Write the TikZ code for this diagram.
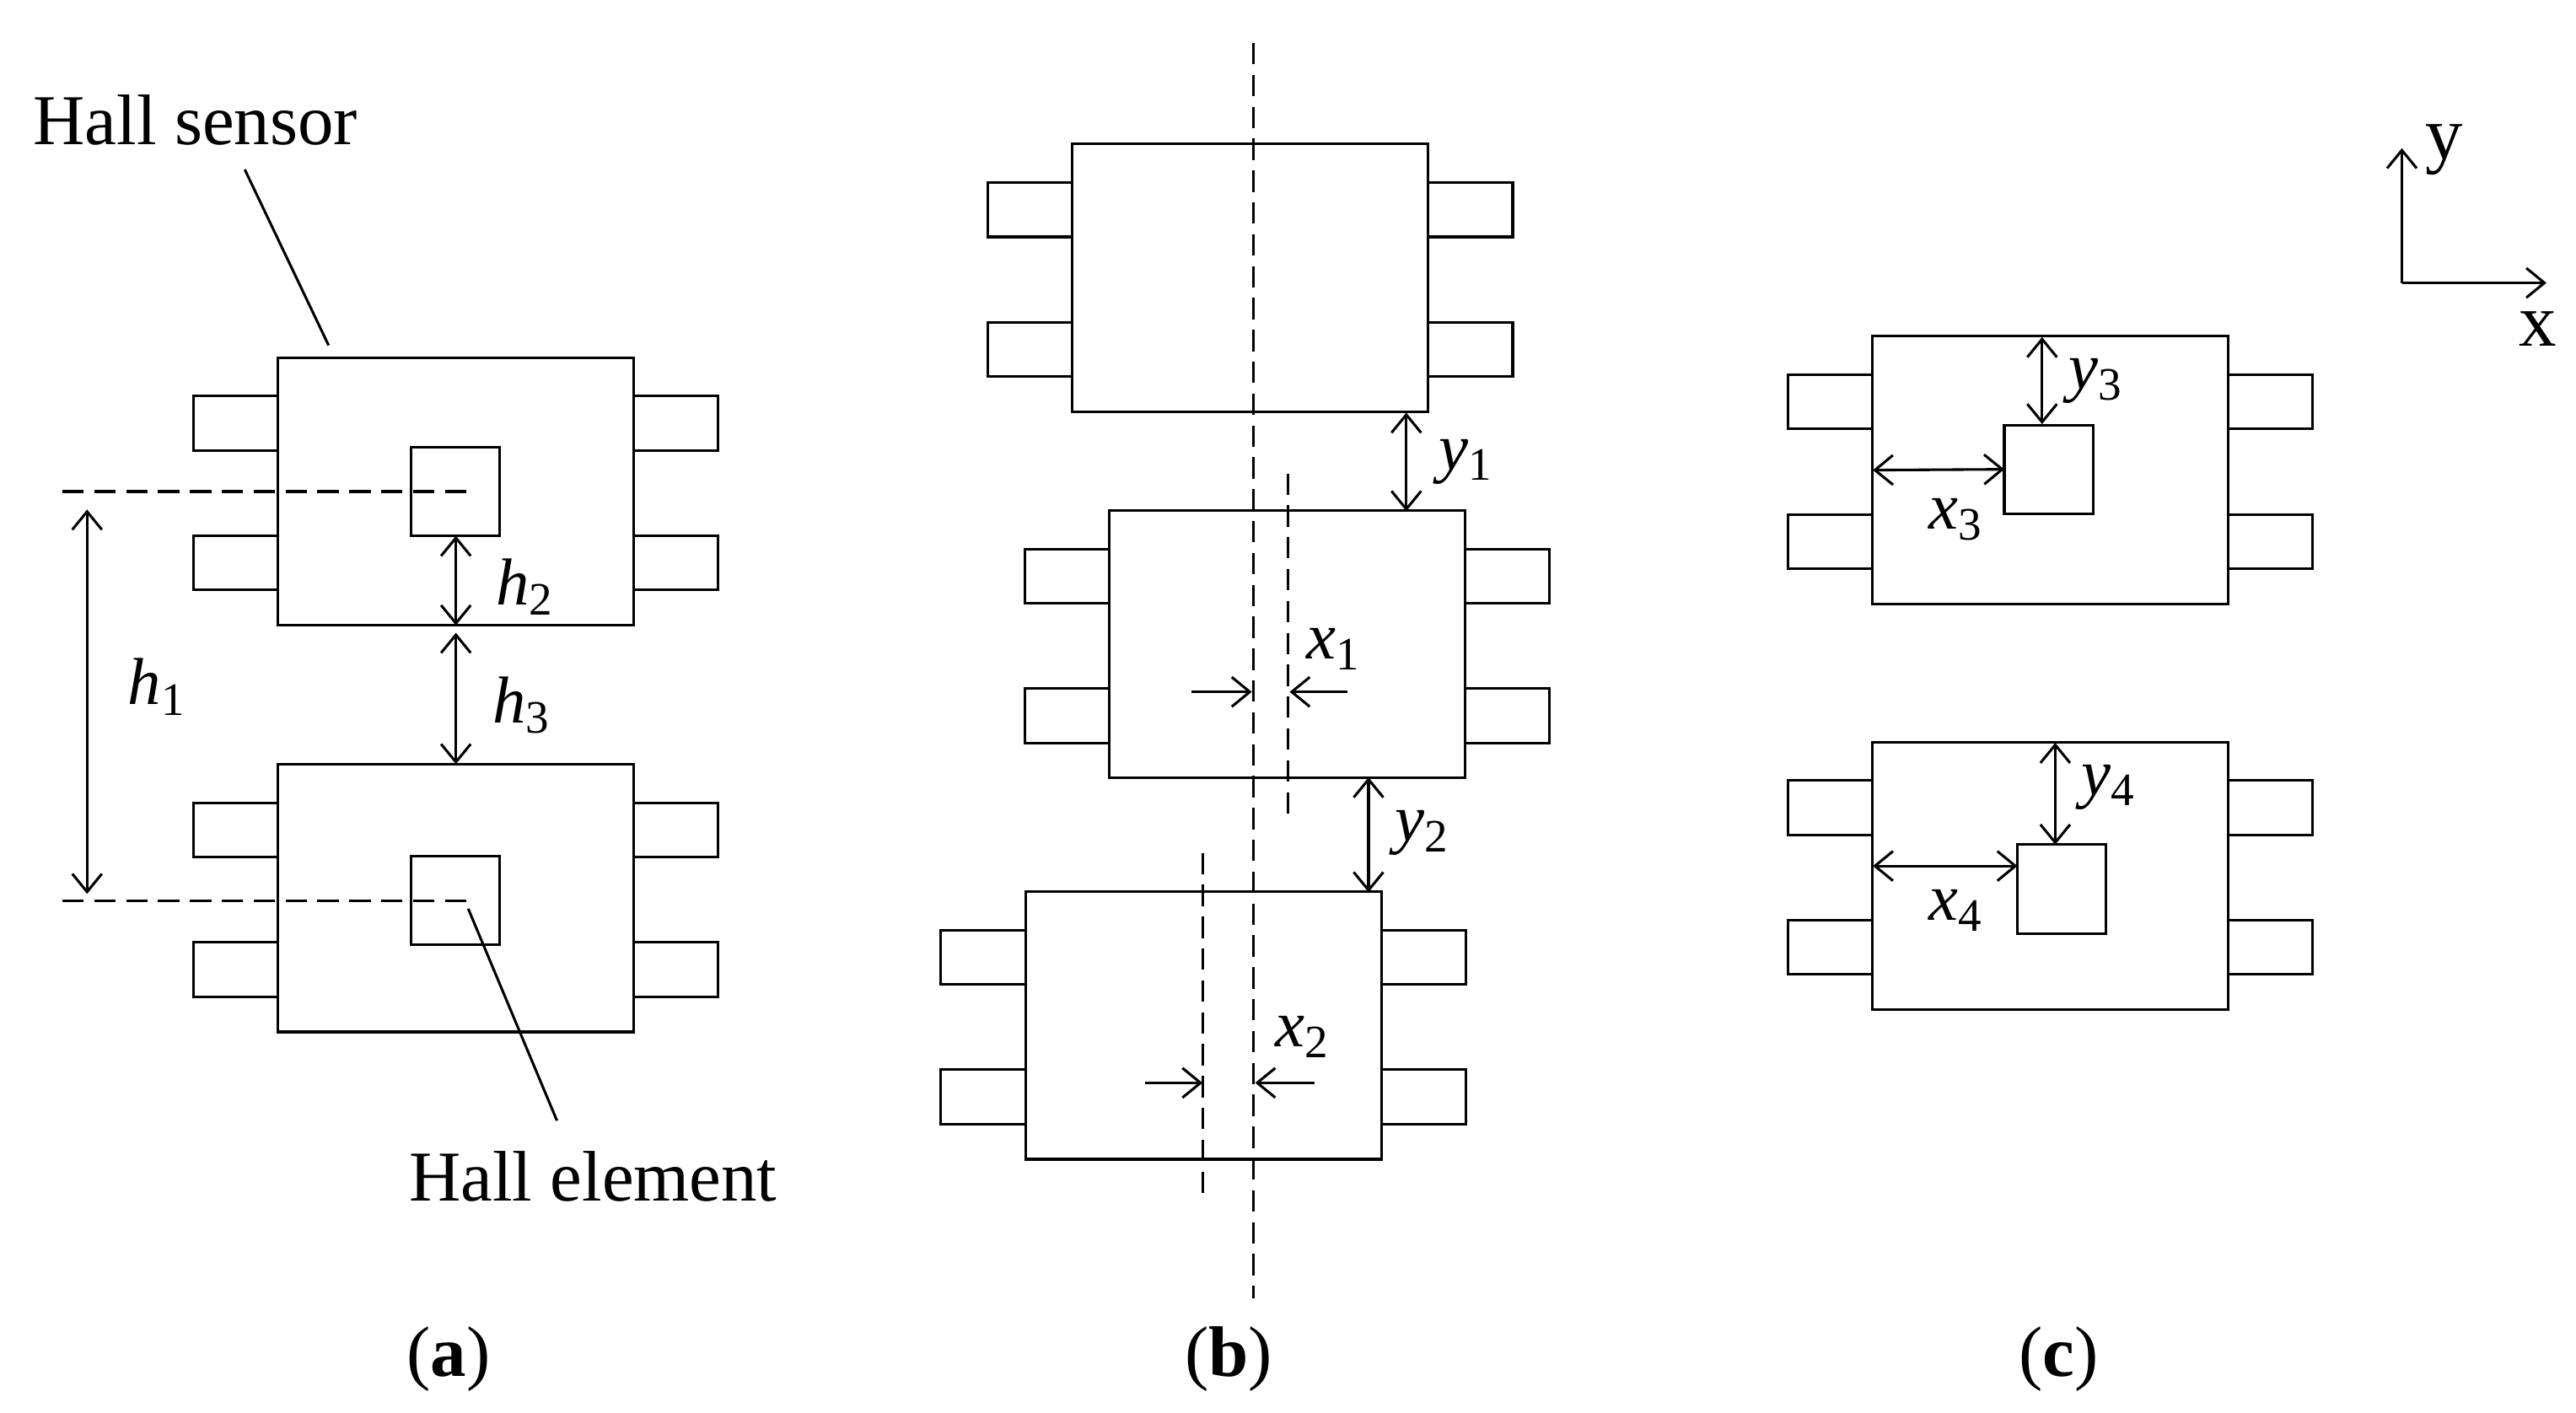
\documentclass[tikz,border=0pt]{standalone}
\usepackage{fontspec}
\setmainfont{Liberation Serif}
\usetikzlibrary{arrows.meta}

\tikzset{
    body/.style={draw, minimum width=2.165cm, minimum height=1.63cm, inner sep=0pt, outer sep=0pt},
    pinbox/.style={draw, minimum width=0.515cm, minimum height=0.33cm, inner sep=0pt, outer sep=0pt},
    element/.style={draw, minimum width=0.54cm, minimum height=0.54cm, inner sep=0pt, outer sep=0pt},
    lab/.style={font=\fontsize{12.4pt}{15pt}\selectfont, inner sep=0pt},
    sym/.style={font=\fontsize{11.5pt}{14pt}\selectfont, inner sep=0pt},
    axislab/.style={font=\fontsize{13pt}{15pt}\selectfont, inner sep=0pt},
    tip/.style={>={Straight Barb[length=1.1mm,width=1.8mm]}},
    dimline/.style={tip, <->, line width=0.45pt},
    pointer/.style={tip, ->, line width=0.45pt},
    centre/.style={dashed, dash pattern=on 3.7pt off 1.82pt, line width=0.45pt}
}

% one package with its four pins
\newcommand{\sensor}[3]{
    \node[body] (#1) at (#2,#3) {};
    \node[pinbox, anchor=east] (#1lt) at ([yshift=0.415cm]#1.west) {};
    \node[pinbox, anchor=east] (#1lb) at ([yshift=-0.435cm]#1.west) {};
    \node[pinbox, anchor=west] (#1rt) at ([yshift=0.415cm]#1.east) {};
    \node[pinbox, anchor=west] (#1rb) at ([yshift=-0.435cm]#1.east) {};
}
\newcommand{\symb}[2]{\textit{#1}\textsubscript{#2}}

\begin{document}
\begin{tikzpicture}[line width=0.45pt]
    \useasboundingbox (0,0) rectangle (15.68,8.602);

    % (a)
    \sensor{aone}{2.775}{5.61}
    \sensor{atwo}{2.775}{3.135}
    \node[element] (aonee) at (2.77,5.61) {};
    \node[element] (atwoe) at (2.77,3.12) {};

    \node[lab] (hallsensor) at (1.19,7.87) {Hall sensor};
    \node[lab] (hallelement) at (3.61,1.44) {Hall element};
    \coordinate (hsa) at (1.49,7.57);
    \coordinate (hsb) at (2.00,6.50);
    \coordinate (hea) at (2.85,3.07);
    \coordinate (heb) at (3.39,1.78);
    \draw (hsa) -- (hsb);
    \draw (hea) -- (heb);

    \coordinate (dla) at (0.38,5.61);
    \coordinate (dlb) at (2.84,5.61);
    \coordinate (dlc) at (0.38,3.12);
    \coordinate (dld) at (2.84,3.12);
    \draw[centre] (dla) -- (dlb);
    \draw[centre] (dlc) -- (dld);

    \coordinate (hia) at (0.53,5.50);
    \coordinate (hib) at (0.53,3.16);
    \draw[dimline] (hia) -- (hib);
    \draw[dimline] (aonee.south -| aone.south) -- (aone.south);
    \coordinate (hiii) at (2.775,4.75);
    \draw[dimline] (hiii) -- (atwo.north);

    \node[sym] (hone) at (0.96,4.42) {\symb{h}{1}};
    \node[sym] (htwo) at (3.20,5.03) {\symb{h}{2}};
    \node[sym] (hthree) at (3.18,4.31) {\symb{h}{3}};

    % (b)
    \sensor{bone}{7.61}{6.91}
    \sensor{btwo}{7.835}{4.68}
    \sensor{bthree}{7.325}{2.36}

    \coordinate (cla) at (7.63,8.34);
    \coordinate (clb) at (7.63,0.70);
    \coordinate (clc) at (7.84,5.72);
    \coordinate (cld) at (7.84,3.63);
    \coordinate (cle) at (7.32,3.41);
    \coordinate (clf) at (7.32,1.32);
    \draw[centre] (cla) -- (clb);
    \draw[centre] (clc) -- (cld);
    \draw[centre] (cle) -- (clf);

    \coordinate (yia) at (8.56,6.09);
    \coordinate (yib) at (8.56,5.49);
    \coordinate (yic) at (8.33,3.87);
    \coordinate (yid) at (8.33,3.17);
    \draw[dimline] (yia) -- (yib);
    \draw[dimline] (yic) -- (yid);

    \coordinate (xia) at (7.25,4.39);
    \coordinate (xib) at (7.62,4.39);
    \coordinate (xic) at (8.20,4.39);
    \coordinate (xid) at (7.85,4.39);
    \coordinate (xie) at (6.97,2.01);
    \coordinate (xif) at (7.32,2.01);
    \coordinate (xig) at (8.00,2.01);
    \coordinate (xih) at (7.64,2.01);
    \draw[pointer] (xia) -- (xib);
    \draw[pointer] (xic) -- (xid);
    \draw[pointer] (xie) -- (xif);
    \draw[pointer] (xig) -- (xih);

    \node[sym] (yone) at (8.93,5.79) {\symb{y}{1}};
    \node[sym] (xone) at (8.12,4.65) {\symb{x}{1}};
    \node[sym] (ytwo) at (8.66,3.53) {\symb{y}{2}};
    \node[sym] (xtwo) at (7.93,2.29) {\symb{x}{2}};

    % (c)
    \sensor{cone}{12.48}{5.74}
    \sensor{ctwo}{12.48}{3.27}
    \node[element] (conee) at (12.47,5.745) {};
    \node[element] (ctwoe) at (12.55,3.19) {};

    \coordinate (yiii) at (12.43,6.55);
    \coordinate (yiiib) at (12.43,6.02);
    \coordinate (yiv) at (12.51,4.08);
    \coordinate (yivb) at (12.51,3.46);
    \draw[dimline] (yiii) -- (yiiib);
    \draw[dimline] (yiv) -- (yivb);
    \coordinate (xiiia) at (11.40,5.74);
    \coordinate (xiva) at (11.40,3.33);
    \coordinate (xivb) at (12.28,3.33);
    \draw[dimline] (xiiia) -- (conee.west);
    \draw[dimline] (xiva) -- (xivb);

    \node[sym] (ythree) at (12.76,6.28) {\symb{y}{3}};
    \node[sym] (xthree) at (11.91,5.44) {\symb{x}{3}};
    \node[sym] (yfour) at (12.84,3.81) {\symb{y}{4}};
    \node[sym] (xfour) at (11.91,3.06) {\symb{x}{4}};

    % axes
    \coordinate (orig) at (14.62,6.88);
    \coordinate (yend) at (14.62,7.70);
    \coordinate (xend) at (15.50,6.88);
    \draw[pointer] (orig) -- (yend);
    \draw[pointer] (orig) -- (xend);
    \node[axislab] (ylab) at (14.88,7.69) {y};
    \node[axislab] (xlab) at (15.45,6.60) {x};

    % captions
    \node[lab] (capa) at (2.73,0.33) {(\textbf{a})};
    \node[lab] (capb) at (7.48,0.33) {(\textbf{b})};
    \node[lab] (capc) at (12.53,0.33) {(\textbf{c})};
\end{tikzpicture}
\end{document}
